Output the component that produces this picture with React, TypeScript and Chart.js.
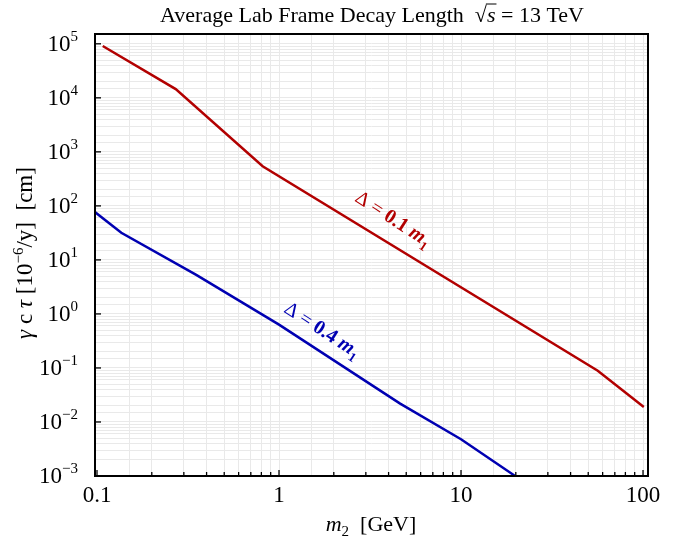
import React, { useEffect, useRef } from 'react';
import { Chart, registerables } from 'chart.js';

Chart.register(...registerables);

// ---- data ----
const redMass = [0.1075, 0.2707, 0.813, 56.4, 101];
const redLength = [91000, 14500, 541, 0.0887, 0.019];
const blueMass = [0.097, 0.136, 0.351, 1.0, 4.63, 10, 20.2];
const blueLength = [78, 31.8, 5.29, 0.634, 0.0219, 0.0048, 0.00096];

const xTickValues = [0.1, 1, 10, 100];
const xTickLabels = ['0.1', '1', '10', '100'];
const yTickExponents = [-3, -2, -1, 0, 1, 2, 3, 4, 5];
const supMap: Record<string, string> = { '-': '−' };

const titleMain = 'Average Lab Frame Decay Length';
const titleEnergy = ' = 13 TeV';
const redLabelValue = '0.1';
const blueLabelValue = '0.4';

const SERIF = '"Liberation Serif", "Times New Roman", serif';
const RED = 'rgb(178,0,0)';
const BLUE = 'rgb(0,0,178)';

type Run = { text: string; font: string; dy?: number; overline?: number };

function runsWidth(ctx: CanvasRenderingContext2D, runs: Run[]) {
  let w = 0;
  for (const r of runs) {
    ctx.font = r.font;
    w += ctx.measureText(r.text).width;
  }
  return w;
}

function drawRuns(ctx: CanvasRenderingContext2D, runs: Run[], x: number, y: number, align: 'left' | 'center' | 'right') {
  const total = runsWidth(ctx, runs);
  let cx = align === 'left' ? x : align === 'center' ? x - total / 2 : x - total;
  ctx.textAlign = 'left';
  ctx.textBaseline = 'alphabetic';
  for (const r of runs) {
    ctx.font = r.font;
    const w = ctx.measureText(r.text).width;
    ctx.fillText(r.text, cx, y + (r.dy || 0));
    if (r.overline) {
      ctx.save();
      ctx.lineWidth = 1;
      ctx.strokeStyle = ctx.fillStyle as string;
      ctx.beginPath();
      ctx.moveTo(cx - 1, y - r.overline);
      ctx.lineTo(cx + w + 1, y - r.overline);
      ctx.stroke();
      ctx.restore();
    }
    cx += w;
  }
}

const decorPlugin = {
  id: 'decor',
  afterDatasetsDraw(chart: any) {
    const ctx: CanvasRenderingContext2D = chart.ctx;
    const area = chart.chartArea;
    const xs = chart.scales.x;
    const ys = chart.scales.y;
    ctx.save();

    // annotations
    const annos = [
      { color: RED, value: redLabelValue, cx: 394, cy: 218, ang: 33 },
      { color: BLUE, value: blueLabelValue, cx: 323, cy: 329, ang: 33 },
    ];
    for (const a of annos) {
      ctx.save();
      ctx.translate(a.cx, a.cy);
      ctx.rotate((a.ang * Math.PI) / 180);
      ctx.fillStyle = a.color;
      drawRuns(
        ctx,
        [
          { text: 'Δ = ', font: `20px ${SERIF}` },
          { text: a.value + ' ', font: `bold 20px ${SERIF}` },
          { text: 'm', font: `italic bold 20px ${SERIF}` },
          { text: '1', font: `bold 13px ${SERIF}`, dy: 5 },
        ],
        0,
        7,
        'center'
      );
      ctx.restore();
    }

    // frame
    ctx.strokeStyle = '#000';
    ctx.lineWidth = 2;
    ctx.strokeRect(area.left, area.top, area.right - area.left, area.bottom - area.top);

    // inward ticks bottom
    ctx.lineWidth = 1.3;
    for (let e = -1; e <= 2; e++) {
      for (let m = 1; m <= 9; m++) {
        const v = m * Math.pow(10, e);
        if (v < xs.min || v > xs.max) continue;
        const px = xs.getPixelForValue(v);
        const len = m === 1 ? 6 : 4;
        ctx.beginPath();
        ctx.moveTo(px, area.bottom);
        ctx.lineTo(px, area.bottom - len);
        ctx.stroke();
      }
    }
    // inward ticks left
    for (const e of yTickExponents) {
      const py = ys.getPixelForValue(Math.pow(10, e));
      ctx.beginPath();
      ctx.moveTo(area.left, py);
      ctx.lineTo(area.left + 6, py);
      ctx.stroke();
    }

    // x tick labels
    ctx.fillStyle = '#000';
    xTickValues.forEach((v, i) => {
      const px = xs.getPixelForValue(v);
      drawRuns(ctx, [{ text: xTickLabels[i], font: `23px ${SERIF}` }], px, 502, 'center');
    });
    // y tick labels
    for (const e of yTickExponents) {
      const py = ys.getPixelForValue(Math.pow(10, e));
      const exp = String(e).replace('-', supMap['-']);
      drawRuns(
        ctx,
        [
          { text: '10', font: `23px ${SERIF}` },
          { text: exp, font: `15px ${SERIF}`, dy: -10 },
        ],
        78,
        py + 7,
        'right'
      );
    }

    // title
    drawRuns(
      ctx,
      [
        { text: titleMain + '  ', font: `22px ${SERIF}` },
        { text: '√', font: `22px ${SERIF}` },
        { text: 's', font: `italic 22px ${SERIF}`, overline: 18 },
        { text: titleEnergy, font: `22px ${SERIF}` },
      ],
      372,
      22,
      'center'
    );

    // x title
    drawRuns(
      ctx,
      [
        { text: 'm', font: `italic 22px ${SERIF}` },
        { text: '2', font: `15px ${SERIF}`, dy: 5 },
        { text: '  [GeV]', font: `22px ${SERIF}` },
      ],
      371,
      531,
      'center'
    );

    // y title
    ctx.save();
    ctx.translate(32, 253);
    ctx.rotate(-Math.PI / 2);
    drawRuns(
      ctx,
      [
        { text: 'γ', font: `italic 23px ${SERIF}` },
        { text: ' c ', font: `23px ${SERIF}` },
        { text: 'τ', font: `italic 23px ${SERIF}` },
        { text: ' [10', font: `23px ${SERIF}` },
        { text: '−6', font: `15px ${SERIF}`, dy: -9 },
        { text: '/y]  [cm]', font: `23px ${SERIF}` },
      ],
      0,
      0,
      'center'
    );
    ctx.restore();

    ctx.restore();
  },
};

export default function App() {
  const ref = useRef<HTMLCanvasElement>(null);
  useEffect(() => {
    if (!ref.current) return;
    const chart = new Chart(ref.current, {
      type: 'line',
      data: {
        datasets: [
          {
            label: 'Δ = 0.1 m1',
            data: redMass.map((x, i) => ({ x, y: redLength[i] })),
            borderColor: RED,
            borderWidth: 2.5,
            pointRadius: 0,
            fill: false,
            tension: 0,
          },
          {
            label: 'Δ = 0.4 m1',
            data: blueMass.map((x, i) => ({ x, y: blueLength[i] })),
            borderColor: BLUE,
            borderWidth: 2.5,
            pointRadius: 0,
            fill: false,
            tension: 0,
          },
        ],
      },
      options: {
        responsive: false,
        animation: false,
        devicePixelRatio: 1,
        layout: { padding: { top: 34, right: 36, left: 0, bottom: 0 } },
        plugins: {
          legend: { display: false },
          tooltip: { enabled: false },
          title: { display: false },
        },
        scales: {
          x: {
            type: 'logarithmic',
            min: 0.0975,
            max: 106.5,
            ticks: { display: false, autoSkip: false },
            grid: { color: '#e9e9e9', drawTicks: false, lineWidth: 1 },
            border: { display: false },
            afterFit: (s: any) => {
              s.height = 64;
            },
          },
          y: {
            type: 'logarithmic',
            min: 0.001,
            max: 1.52e5,
            ticks: { display: false, autoSkip: false },
            grid: { color: '#e9e9e9', drawTicks: false, lineWidth: 1 },
            border: { display: false },
            afterFit: (s: any) => {
              s.width = 95;
            },
          },
        },
      } as any,
      plugins: [decorPlugin],
    });
    return () => chart.destroy();
  }, []);
  return (
    <div style={{ position: 'absolute', left: 0, top: 0, width: 684, height: 540, background: '#fff' }}>
      <canvas ref={ref} width={684} height={540} />
    </div>
  );
}
